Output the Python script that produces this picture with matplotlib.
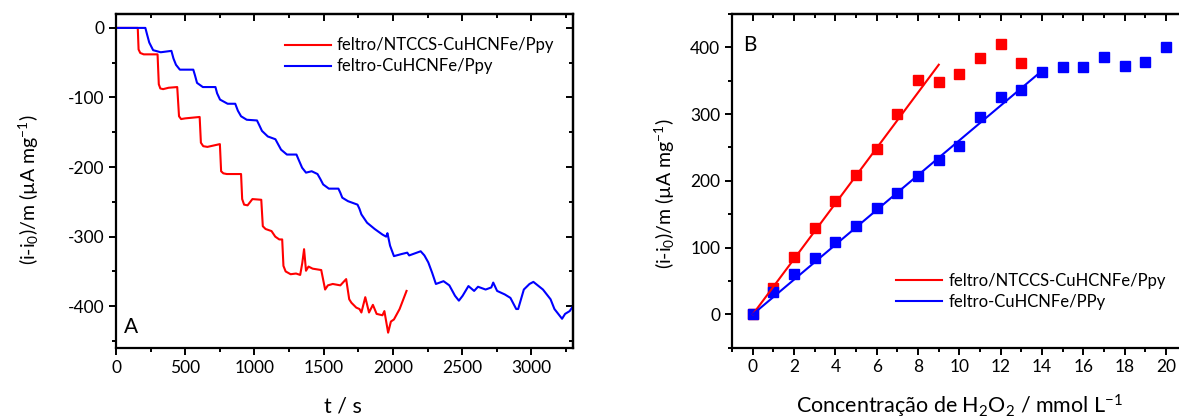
import matplotlib
matplotlib.use("Agg")
import matplotlib.pyplot as plt
from matplotlib.ticker import MultipleLocator

plt.rcParams['font.family'] = ['Lato', 'DejaVu Sans']
plt.rcParams['mathtext.fontset'] = 'custom'
plt.rcParams['mathtext.rm'] = 'Lato'
plt.rcParams['mathtext.it'] = 'Lato'
plt.rcParams['axes.unicode_minus'] = False

# panel A: chronoamperometry, current vs time
t_red = [0, 157, 163, 175, 200, 300, 309, 320, 340, 380, 442, 455, 470, 500, 604, 613, 630,
         660, 750, 759, 775, 800, 903, 911, 925, 950, 985, 1049, 1060, 1080, 1123, 1150, 1179,
         1200, 1209, 1225, 1261, 1300, 1330, 1345, 1358, 1372, 1390, 1420, 1482, 1510, 1530,
         1565, 1620, 1662, 1684, 1700, 1735, 1758, 1772, 1800, 1827, 1855, 1882, 1924, 1938,
         1965, 1985, 2007, 2048, 2098]
i_red = [0, 0, -31, -36, -38, -38, -81, -87, -88, -86, -85, -127, -131, -130, -128, -165, -170,
         -171, -167, -206, -209, -210, -210, -246, -254, -255, -246, -247, -285, -289, -292, -300, -304,
         -304, -342, -350, -354, -353, -355, -338, -318, -349, -343, -346, -348, -376, -370,
         -368, -370, -361, -390, -395, -402, -404, -409, -387, -409, -398, -411, -413, -407,
         -438, -422, -419, -404, -378]

t_blue = [0, 212, 225, 240, 268, 323, 400, 415, 433, 461, 558, 570, 585, 627, 718, 730, 751,
          806, 861, 880, 903, 944, 1018, 1035, 1054, 1096, 1151, 1170, 1192, 1234, 1303, 1320,
          1344, 1372, 1413, 1455, 1475, 1496, 1537, 1606, 1620, 1634, 1675, 1744, 1758, 1772,
          1813, 1868, 1924, 1951, 1960, 1979, 2007, 2062, 2103, 2117, 2200, 2227, 2255, 2283,
          2310, 2365, 2407, 2448, 2476, 2503, 2545, 2586, 2614, 2669, 2710, 2724, 2752, 2807,
          2848, 2890, 2904, 2945, 2986, 3014, 3083, 3138, 3166, 3221, 3243, 3276, 3300]
i_blue = [0, 0, -10, -21, -32, -35, -33, -44, -53, -60, -60, -68, -79, -85, -85, -94, -103,
          -109, -109, -119, -127, -132, -133, -140, -148, -156, -160, -167, -175, -182, -182, -190,
          -201, -208, -206, -210, -217, -225, -231, -231, -237, -244, -249, -254, -260, -268,
          -280, -289, -297, -300, -295, -313, -328, -325, -323, -327, -321, -327, -337, -352,
          -368, -364, -370, -385, -392, -385, -371, -378, -372, -376, -373, -366, -378, -383,
          -388, -404, -404, -376, -368, -365, -376, -390, -404, -418, -411, -407, -400]

# panel B: calibration, response vs H2O2 concentration
conc_red = [0, 1, 2, 3, 4, 5, 6, 7, 8, 9, 10, 11, 12, 13]
resp_red = [0, 40, 86.5, 130, 169.5, 208.5, 247, 300, 351.5, 347.5, 360.5, 383.5, 405, 377]
conc_blue = [0, 1, 2, 3, 4, 5, 6, 7, 8, 9, 10, 11, 12, 13, 14, 15, 16, 17, 18, 19, 20]
resp_blue = [0, 33, 61, 85, 108, 132.5, 159, 182.5, 208, 230.5, 251.5, 295.5, 325.5, 335.5,
             363.5, 370, 371, 385, 372, 377.5, 400]
fit_red_x = [0, 9]
fit_red_y = [0, 374]
fit_blue_x = [0, 14]
fit_blue_y = [0, 365]

label_red = 'feltro/NTCCS-CuHCNFe/Ppy'
label_blue_a = 'feltro-CuHCNFe/Ppy'
label_blue_b = 'feltro-CuHCNFe/PPy'
ylab = '(i-i$_0$)/m (µA mg$^{-1}$)'

RED = '#ff0000'
BLUE = '#0000ff'
TICK_FS = 12.5
LAB_FS = 15.5
YLAB_FS = 14
LEG_FS = 12


def style_axes(ax):
    for s in ax.spines.values():
        s.set_linewidth(1.6)
    ax.tick_params(which='both', direction='out', width=1.4, labelsize=TICK_FS,
                   top=False, right=False)
    ax.tick_params(which='major', length=5)
    ax.tick_params(which='minor', length=3)
    # mirrored ticks on top/right, no labels
    sec_x = ax.secondary_xaxis('top')
    sec_x.set_xticks(ax.get_xticks(minor=False))
    sec_x.xaxis.set_minor_locator(ax.xaxis.get_minor_locator())
    sec_x.tick_params(which='both', direction='in', labeltop=False, width=1.4)
    sec_x.tick_params(which='major', length=5)
    sec_x.tick_params(which='minor', length=3)
    sec_x.spines['top'].set_linewidth(1.6)
    sec_y = ax.secondary_yaxis('right')
    sec_y.set_yticks(ax.get_yticks(minor=False))
    sec_y.yaxis.set_minor_locator(ax.yaxis.get_minor_locator())
    sec_y.tick_params(which='both', direction='in', labelright=False, width=1.4)
    sec_y.tick_params(which='major', length=5)
    sec_y.tick_params(which='minor', length=3)
    sec_y.spines['right'].set_linewidth(1.6)


fig = plt.figure(figsize=(11.79, 4.19), dpi=100)

# ---- panel A
axA = fig.add_axes([0.0984, 0.1695, 0.3876, 0.7971])
axA.plot(t_red, i_red, color=RED, lw=1.5, label=label_red)
axA.plot(t_blue, i_blue, color=BLUE, lw=1.5, label=label_blue_a)
axA.set_xlim(0, 3300)
axA.set_ylim(-460, 20)
axA.set_xticks([0, 500, 1000, 1500, 2000, 2500, 3000])
axA.xaxis.set_minor_locator(MultipleLocator(250))
axA.set_yticks([-400, -300, -200, -100, 0])
axA.yaxis.set_minor_locator(MultipleLocator(50))
style_axes(axA)
axA.set_xlabel('t / s', fontsize=LAB_FS)
axA.xaxis.set_label_coords(0.496, -0.145)
axA.set_ylabel(ylab, fontsize=YLAB_FS)
axA.yaxis.set_label_coords(-0.164, 0.475)
axA.text(0.018, 0.045, 'A', transform=axA.transAxes, fontsize=15, ha='left', va='baseline')
axA.legend(loc='upper left', bbox_to_anchor=(0.37, 0.93), frameon=False, fontsize=LEG_FS,
           handlelength=2.75, handletextpad=0.35, labelspacing=0.3, borderpad=0, borderaxespad=0)

# ---- panel B
axB = fig.add_axes([0.621, 0.1702, 0.3855, 0.7964])
axB.plot(conc_red, resp_red, 's', color=RED, ms=7, mec=RED)
axB.plot(conc_blue, resp_blue, 's', color=BLUE, ms=7, mec=BLUE)
axB.plot(fit_red_x, fit_red_y, color=RED, lw=1.5, label=label_red)
axB.plot(fit_blue_x, fit_blue_y, color=BLUE, lw=1.5, label=label_blue_b)
axB.set_xlim(-1, 21)
axB.set_ylim(-50, 450)
axB.set_xticks(list(range(0, 21, 2)))
axB.xaxis.set_minor_locator(MultipleLocator(1))
axB.set_yticks([0, 100, 200, 300, 400])
axB.yaxis.set_minor_locator(MultipleLocator(50))
style_axes(axB)
axB.set_xlabel('Concentração de H$_2$O$_2$ / mmol L$^{-1}$', fontsize=LAB_FS)
axB.xaxis.set_label_coords(0.501, -0.136)
axB.set_ylabel(ylab, fontsize=YLAB_FS)
axB.yaxis.set_label_coords(-0.121, 0.46)
axB.text(0.024, 0.937, 'B', transform=axB.transAxes, fontsize=15, ha='left', va='top')
axB.legend(loc='upper left', bbox_to_anchor=(0.3615, 0.225), frameon=False, fontsize=LEG_FS,
           handlelength=2.75, handletextpad=0.35, labelspacing=0.3, borderpad=0, borderaxespad=0)

fig.savefig('out.png', dpi=100)
plt.close(fig)
